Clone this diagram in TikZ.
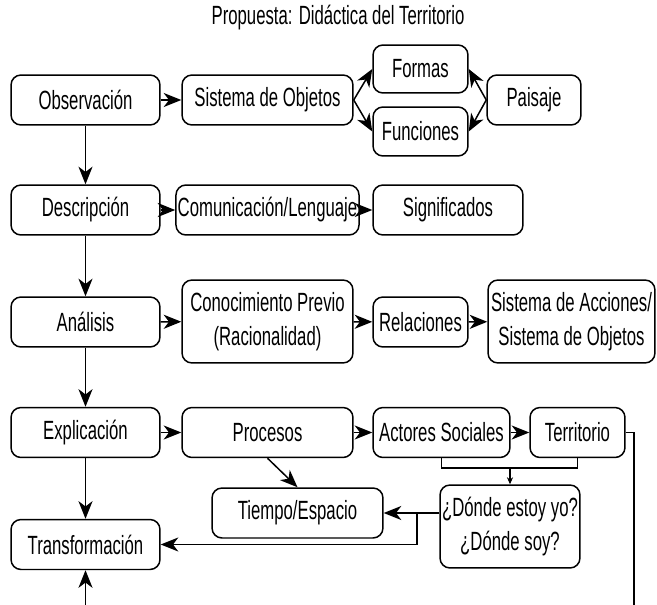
\documentclass[tikz,border=0pt]{standalone}
\usepackage{fontspec}
\setmainfont[FakeStretch=0.635]{Liberation Sans}
\usetikzlibrary{arrows.meta}

\begin{document}
\begin{tikzpicture}[x=0.02cm,y=-0.02cm,
  bloque/.style={draw, rounded corners=0.2cm, line width=0.85pt, align=center,
    minimum height=1cm, inner sep=1pt, font=\fontsize{15}{19}\selectfont},
  flecha/.style={-{Stealth[length=10pt,width=8pt,inset=3pt]}, line width=0.85pt},
  linea/.style={line width=0.85pt}]
\useasboundingbox (0,0) rectangle (657,605);
\node[font=\fontsize{15}{19}\selectfont] (titulo) at (338,18) {Propuesta: Didáctica del Territorio};
% column of steps
\node[bloque, minimum width=2.98cm] (obs) at (85.5,100) {Observación};
\node[bloque, minimum width=2.98cm] (desc) at (85.5,210) {Descripción};
\node[bloque, minimum width=2.98cm] (anal) at (85.5,322) {Análisis};
\node[bloque, minimum width=2.98cm] (expl) at (85.5,432.5) {Explicación};
\node[bloque, minimum width=2.98cm] (transf) at (85.5,544.5) {Transformación};
% row 1
\node[bloque, minimum width=3.42cm] (sisobj) at (267.5,100) {Sistema de Objetos};
\node[bloque, minimum width=1.9cm, minimum height=0.96cm] (formas) at (420.5,69) {Formas};
\node[bloque, minimum width=1.9cm, minimum height=0.98cm] (funciones) at (420.5,131.5) {Funciones};
\node[bloque, minimum width=1.88cm] (paisaje) at (534,100) {Paisaje};
% row 2
\node[bloque, minimum width=3.42cm] (comun) at (267.5,210) {Comunicación/Lenguaje};
\node[bloque, minimum width=3.0cm] (signif) at (448,210) {Significados};
% row 3
\node[bloque, minimum width=3.42cm, minimum height=1.66cm] (conoc) at (267.5,321.5) {Conocimiento Previo\\(Racionalidad)};
\node[bloque, minimum width=1.9cm] (relac) at (420.5,322) {Relaciones};
\node[bloque, minimum width=3.34cm, minimum height=1.66cm] (sisacc) at (571.5,321.5) {Sistema de Acciones/\\Sistema de Objetos};
% row 4
\node[bloque, minimum width=3.42cm] (proc) at (267.5,432.5) {Procesos};
\node[bloque, minimum width=2.74cm] (actores) at (441.5,432.5) {Actores Sociales};
\node[bloque, minimum width=1.9cm] (territ) at (577.5,432.5) {Territorio};
\node[bloque, minimum width=2.8cm, minimum height=1.66cm] (donde) at (510,526.5) {¿Dónde estoy yo?\\¿Dónde soy?};
\node[bloque, minimum width=3.42cm] (tiempo) at (297.5,513) {Tiempo/Espacio};
\coordinate (fin) at (634,605);
\coordinate (inicio) at (85.5,605);
\coordinate (union) at (510,468);
\coordinate (rama) at (417,514);
% vertical arrows
\draw[flecha] (obs) -- (desc);
\draw[flecha] (desc) -- (anal);
\draw[flecha] (anal) -- (expl);
\draw[flecha] (expl) -- (transf);
\draw[flecha] (inicio) -- (transf);
% horizontal arrows
\draw[flecha] (obs) -- (sisobj);
\draw[flecha] (sisobj.east) -- (formas.west);
\draw[flecha] (sisobj.east) -- (funciones.west);
\draw[flecha] (paisaje.west) -- (formas.east);
\draw[flecha] (paisaje.west) -- (funciones.east);
\draw[flecha] (desc) -- (comun);
\draw[flecha] (comun) -- (signif);
\draw[flecha] (anal) -- (conoc);
\draw[flecha] (conoc) -- (relac);
\draw[flecha] (relac) -- (sisacc);
\draw[flecha] (expl) -- (proc);
\draw[flecha] (proc) -- (actores);
\draw[flecha] (actores) -- (territ);
\draw[flecha] (proc.south) -- (tiempo.north);
\draw[linea] (territ.east) -| (fin);
\draw[linea] (actores.south) |- (union) -| (territ.south);
\draw[-{Stealth[length=4pt,width=3.5pt]}, line width=0.6pt] (union) -- (donde.north);
\draw[flecha] (tiempo.east -| donde.west) -- (tiempo.east);
\draw[flecha] (rama) |- (transf.east);
\end{tikzpicture}
\end{document}
